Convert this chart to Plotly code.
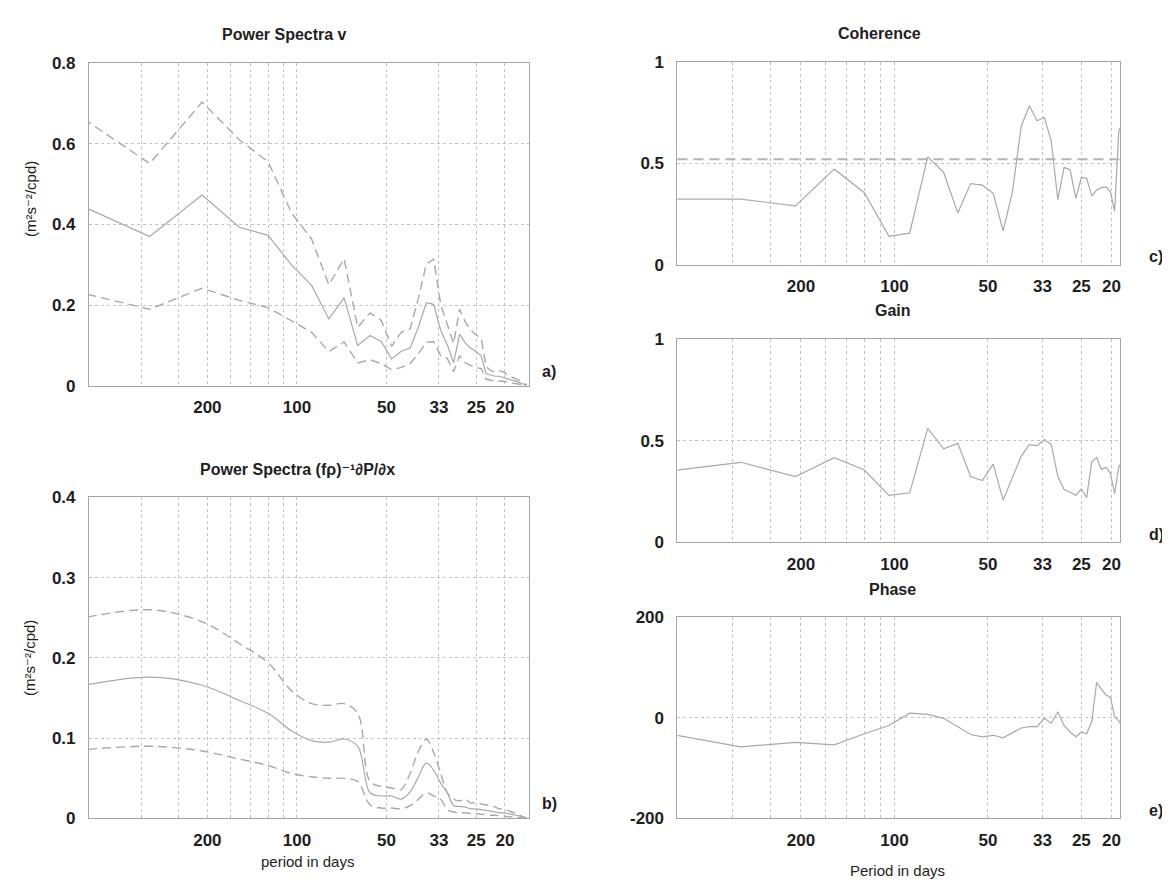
import math
import plotly.graph_objects as go

# ---------------- data ----------------
freq_cpd = [0.0016, 0.0032, 0.0048, 0.0064, 0.0080, 0.0096, 0.0112, 0.0128, 0.0144, 0.0160,
            0.0176, 0.0192, 0.0208, 0.0224, 0.0240, 0.0256, 0.0272, 0.0288, 0.0304, 0.0320,
            0.0336, 0.0352, 0.0368, 0.0384, 0.0400, 0.0416, 0.0432, 0.0448, 0.0464, 0.0480,
            0.0496, 0.0512, 0.0528, 0.0544, 0.0560, 0.0576, 0.0592]

# a) power spectrum of v (estimate and confidence limits)
v_mid = [0.470, 0.370, 0.473, 0.393, 0.373, 0.299, 0.249, 0.166, 0.218, 0.100,
         0.125, 0.110, 0.067, 0.086, 0.094, 0.146, 0.206, 0.202, 0.138, 0.102,
         0.058, 0.128, 0.106, 0.093, 0.085, 0.074, 0.030, 0.026, 0.024, 0.024,
         0.021, 0.018, 0.014, 0.011, 0.008, 0.004, 0.002]
v_hi = [0.701, 0.551, 0.703, 0.610, 0.555, 0.428, 0.364, 0.250, 0.315, 0.145,
        0.181, 0.162, 0.098, 0.133, 0.141, 0.218, 0.302, 0.314, 0.202, 0.150,
        0.105, 0.190, 0.158, 0.138, 0.126, 0.118, 0.048, 0.038, 0.034, 0.037,
        0.034, 0.026, 0.021, 0.018, 0.013, 0.006, 0.003]
v_lo = [0.243, 0.190, 0.242, 0.212, 0.194, 0.162, 0.133, 0.085, 0.109, 0.057,
        0.065, 0.055, 0.040, 0.046, 0.055, 0.080, 0.108, 0.110, 0.075, 0.068,
        0.035, 0.075, 0.057, 0.050, 0.045, 0.043, 0.017, 0.014, 0.013, 0.013,
        0.012, 0.010, 0.007, 0.006, 0.004, 0.002, 0.001]

# b) power spectrum of (f rho)^-1 dP/dx
p_mid = [0.160, 0.176, 0.166, 0.147, 0.131, 0.109, 0.097, 0.095, 0.099, 0.090,
         0.032, 0.028, 0.028, 0.024, 0.033, 0.052, 0.069, 0.060, 0.044, 0.032,
         0.016, 0.015, 0.014, 0.012, 0.012, 0.011, 0.010, 0.009, 0.008, 0.007,
         0.007, 0.006, 0.005, 0.004, 0.003, 0.001, 0.0005]
p_hi = [0.244, 0.260, 0.245, 0.218, 0.194, 0.159, 0.143, 0.141, 0.143, 0.131,
        0.046, 0.040, 0.038, 0.036, 0.056, 0.084, 0.099, 0.082, 0.056, 0.032,
        0.024, 0.022, 0.024, 0.019, 0.020, 0.018, 0.017, 0.016, 0.014, 0.012,
        0.012, 0.010, 0.008, 0.006, 0.004, 0.002, 0.001]
p_lo = [0.083, 0.090, 0.084, 0.074, 0.066, 0.056, 0.052, 0.050, 0.050, 0.046,
        0.017, 0.013, 0.013, 0.012, 0.016, 0.024, 0.032, 0.028, 0.024, 0.011,
        0.008, 0.007, 0.007, 0.006, 0.006, 0.005, 0.005, 0.004, 0.004, 0.003,
        0.003, 0.002, 0.002, 0.001, 0.001, 0.0005, 0.0002]

# c) coherence, d) gain, e) phase (first 34 frequencies)
coherence = [0.323, 0.323, 0.290, 0.471, 0.355, 0.139, 0.155, 0.532, 0.456, 0.255,
             0.400, 0.392, 0.352, 0.166, 0.360, 0.682, 0.784, 0.710, 0.726, 0.610,
             0.320, 0.480, 0.468, 0.327, 0.430, 0.426, 0.339, 0.368, 0.380, 0.384,
             0.360, 0.263, 0.660, 0.700]
coh_significance = 0.52
gain = [0.338, 0.394, 0.324, 0.417, 0.356, 0.231, 0.244, 0.561, 0.460, 0.487,
        0.324, 0.304, 0.385, 0.208, 0.320, 0.423, 0.481, 0.476, 0.506, 0.481,
        0.324, 0.260, 0.247, 0.231, 0.263, 0.220, 0.396, 0.417, 0.359, 0.369,
        0.340, 0.240, 0.372, 0.400]
phase = [-24.8, -58.0, -49.0, -54.0, -32.0, -15.5, 9.0, 6.5, -1.3, -18.0,
         -33.5, -38.0, -35.0, -40.0, -30.0, -20.6, -18.0, -18.0, -1.3, -11.0,
         11.6, -15.5, -28.4, -38.0, -28.4, -32.0, -7.7, 69.7, 56.8, 45.0,
         40.6, 2.0, -6.5, -17.0]

# x-axis labels (frequency in cpd, labelled as period in days) and minor grid
x_tickvals = [0.005, 0.01, 0.02, 0.03, 0.04, 0.05]
x_ticktext = ["200", "100", "50", "33", "25", "20"]
x_minor_grid = [0.003, 0.004, 0.006, 0.007, 0.008, 0.009]

# ---------------- styling ----------------
W, H = 1170, 886
FONT = "Liberation Sans, Arial, Helvetica, DejaVu Sans, sans-serif"
LINE = "#a9a9a9"
GRID = "#c4c4c4"
BOX = "#a6a6a6"
TXT = "#1e1e1e"


def px_x(p):
    return p / W


def px_y(p):
    return 1 - p / H


fig = go.Figure()
n_right = len(coherence)


def add(x, y, axis, dash=None, width=1.2, shape="linear"):
    fig.add_trace(go.Scatter(
        x=x, y=y, mode="lines", xaxis="x" + axis, yaxis="y" + axis,
        line=dict(color=LINE, width=width, dash=dash, shape=shape),
        showlegend=False, hoverinfo="skip"))


DASH = "9px,5px"
add(freq_cpd, v_hi, "", DASH, 1.4)
add(freq_cpd, v_lo, "", DASH, 1.4)
add(freq_cpd, v_mid, "", None, 1.2)

add(freq_cpd, p_hi, "2", DASH, 1.4, "spline")
add(freq_cpd, p_lo, "2", DASH, 1.4, "spline")
add(freq_cpd, p_mid, "2", None, 1.2, "spline")

add(freq_cpd[:n_right], coherence, "3")
add(freq_cpd[:n_right], gain, "4")
add(freq_cpd[:n_right], phase, "5")

# panel geometry (pixels)
left_x = (81, 521)
right_x = (670, 1113)
panels = {
    "": dict(xp=left_x, yp=(47, 377), xr=(0.002, 0.06), yr=(0, 0.8),
             yt=[0, 0.2, 0.4, 0.6, 0.8], ytt=["0", "0.2", "0.4", "0.6", "0.8"]),
    "2": dict(xp=left_x, yp=(491, 819), xr=(0.002, 0.06), yr=(0, 0.4),
              yt=[0, 0.1, 0.2, 0.3, 0.4], ytt=["0", "0.1", "0.2", "0.3", "0.4"]),
    "3": dict(xp=right_x, yp=(46, 253), xr=(0.002, 0.0533), yr=(0, 1),
              yt=[0, 0.5, 1], ytt=["0", "0.5", "1"]),
    "4": dict(xp=right_x, yp=(329, 537), xr=(0.002, 0.0533), yr=(0, 1),
              yt=[0, 0.5, 1], ytt=["0", "0.5", "1"]),
    "5": dict(xp=right_x, yp=(613, 819), xr=(0.002, 0.0533), yr=(-200, 200),
              yt=[-200, 0, 200], ytt=["-200", "0", "200"]),
}

layout = dict(
    width=W, height=H, margin=dict(l=0, r=0, t=0, b=0),
    paper_bgcolor="white", plot_bgcolor="white",
    font=dict(family=FONT, color=TXT),
    showlegend=False,
)
tickfont = dict(family=FONT, size=17, color=TXT, weight="bold")
for key, p in panels.items():
    layout["xaxis" + key] = dict(
        type="log", domain=[px_x(p["xp"][0]), px_x(p["xp"][1])],
        range=[math.log10(p["xr"][0]), math.log10(p["xr"][1])],
        anchor="y" + key, tickmode="array", tickvals=x_tickvals, ticktext=x_ticktext,
        showgrid=True, gridcolor=GRID, griddash="dot", gridwidth=1,
        minor=dict(tickmode="array", tickvals=x_minor_grid, showgrid=True,
                   gridcolor=GRID, griddash="dot", gridwidth=1, ticks=""),
        showline=True, linecolor=BOX, linewidth=1, mirror=True,
        ticks="outside", ticklen=6, tickcolor="rgba(0,0,0,0)",
        tickfont=tickfont, zeroline=False)
    layout["yaxis" + key] = dict(
        domain=[px_y(p["yp"][1]), px_y(p["yp"][0])],
        range=list(p["yr"]), anchor="x" + key,
        tickmode="array", tickvals=p["yt"], ticktext=p["ytt"],
        showgrid=True, gridcolor=GRID, griddash="dot", gridwidth=1,
        showline=True, linecolor=BOX, linewidth=1, mirror=True,
        ticks="outside", ticklen=9, tickcolor="rgba(0,0,0,0)",
        tickfont=tickfont, zeroline=False)
fig.update_layout(**layout)

# coherence significance level
fig.add_shape(type="line", xref="x3 domain", yref="y3", x0=0, x1=1,
              y0=coh_significance, y1=coh_significance,
              line=dict(color="#b4b4b4", width=2.2, dash="10px,6px"))


def note(text, x, y, size=15, bold=True, angle=0, xanchor="center"):
    fig.add_annotation(text=text, x=px_x(x), y=px_y(y), xref="paper", yref="paper",
                       showarrow=False, xanchor=xanchor, yanchor="middle", textangle=angle,
                       font=dict(family=FONT, size=size, color=TXT,
                                 weight="bold" if bold else "normal"))


UNIT = "(m\u00b2s\u207b\u00b2/cpd)"
note("Power Spectra v", 277, 18, size=16)
note("Power Spectra (f\u03c1)\u207b\u00b9\u2202P/\u2202x", 290, 462, size=16)
note("Coherence", 872, 17, size=16)
note("Gain", 886, 300, size=16)
note("Phase", 885, 585, size=16)
note("period in days", 300, 863, size=15, bold=False)
note("Period in days", 890, 872, size=15, bold=False)
note(UNIT, 22, 186, size=15, bold=False, angle=-90)
note(UNIT, 22, 655, size=15, bold=False, angle=-90)
note("a)", 532, 362, size=16, xanchor="left")
note("b)", 532, 804, size=16, xanchor="left")
note("c)", 1140, 245, size=16, xanchor="left")
note("d)", 1140, 529, size=16, xanchor="left")
note("e)", 1140, 811, size=16, xanchor="left")

fig.write_html("out.html")
